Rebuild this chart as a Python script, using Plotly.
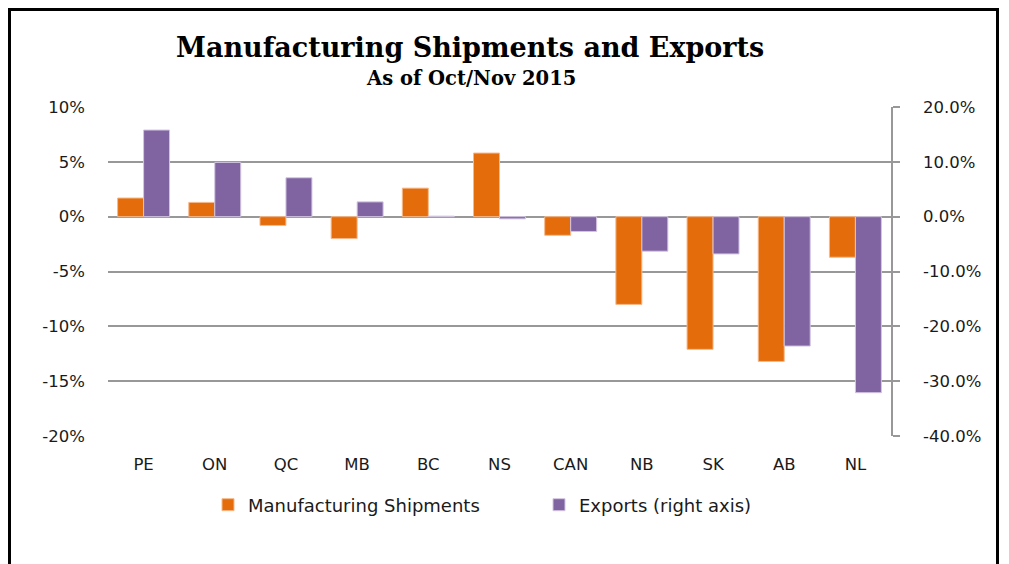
import plotly.graph_objects as go

provinces = ["PE", "ON", "QC", "MB", "BC", "NS", "CAN", "NB", "SK", "AB", "NL"]
shipments = [1.7, 1.3, -0.8, -2.0, 2.6, 5.8, -1.7, -8.0, -12.1, -13.2, -3.7]
exports = [15.8, 9.9, 7.1, 2.7, 0.1, -0.4, -2.7, -6.3, -6.8, -23.6, -32.1]

left_ticks = [-20, -15, -10, -5, 0, 5, 10]
left_labels = ["-20%", "-15%", "-10%", "-5%", "0%", "5%", "10%"]
right_ticks = [-40, -30, -20, -10, 0, 10, 20]
right_labels = ["-40.0%", "-30.0%", "-20.0%", "-10.0%", "0.0%", "10.0%", "20.0%"]

title_text = "Manufacturing Shipments and Exports"
subtitle_text = "As of Oct/Nov 2015"

# page body has an 8px margin: work in screen coords, convert to figure coords
OFF = 8
W, H = 1009 - OFF, 564 - OFF
L, R, T, B = 108 - OFF, 891 - OFF, 107 - OFF, 436 - OFF


def px_x(p):
    return (p - OFF - L) / (R - L)


def px_y(p):
    return (B - (p - OFF)) / (B - T)


ORANGE = "#E46C0A"
PURPLE = "#8064A2"
GRID = "#989898"
TXT = "#1a1a1a"
FONT = "DejaVu Sans"
FS = 16.5

fig = go.Figure()
bw = 0.365
fig.add_trace(go.Bar(
    x=provinces, y=shipments, name="Manufacturing Shipments",
    marker=dict(color=ORANGE, line=dict(color="#F6B98A", width=1)),
    width=bw, offset=-bw, yaxis="y",
))
fig.add_trace(go.Bar(
    x=provinces, y=exports, name="Exports (right axis)",
    marker=dict(color=PURPLE, line=dict(color="#D3C6E2", width=1)),
    width=bw, offset=0, yaxis="y2",
))

fig.update_layout(
    width=W, height=H,
    margin=dict(l=L, r=W - R, t=T, b=H - B, pad=0),
    paper_bgcolor="white", plot_bgcolor="white",
    barmode="overlay",
    font=dict(family=FONT, size=FS, color=TXT),
    xaxis=dict(
        type="category", showgrid=False, showline=False, zeroline=False,
        ticks="", ticklabelstandoff=16, tickfont=dict(size=FS, color=TXT),
        range=[-0.5, 10.5],
    ),
    yaxis=dict(
        range=[-20, 10], tickvals=left_ticks, ticktext=left_labels,
        showgrid=True, gridcolor=GRID, gridwidth=1.5,
        zeroline=True, zerolinecolor=GRID, zerolinewidth=1.5,
        showline=False, ticks="", ticklabelstandoff=22,
        tickfont=dict(size=FS, color=TXT),
    ),
    yaxis2=dict(
        range=[-40, 20], tickvals=right_ticks, ticktext=right_labels,
        overlaying="y", side="right", showgrid=False, zeroline=False,
        showline=True, linecolor=GRID, linewidth=1.5,
        ticks="outside", ticklen=7, tickcolor=GRID, tickwidth=1.5,
        ticklabelstandoff=20, tickfont=dict(size=FS, color=TXT),
    ),
    showlegend=True,
    legend=dict(
        orientation="h", x=px_x(208), y=px_y(505), xanchor="left", yanchor="middle",
        font=dict(size=18, color=TXT), bgcolor="rgba(0,0,0,0)",
        itemwidth=30, entrywidth=286, entrywidthmode="pixels",
    ),
)

fig.add_annotation(
    text="<b>" + title_text + "</b>", xref="paper", yref="paper",
    x=px_x(470), y=px_y(48), xanchor="center", yanchor="middle", showarrow=False,
    font=dict(family="DejaVu Serif", size=27, color="black"),
)
fig.add_annotation(
    text="<b>" + subtitle_text + "</b>", xref="paper", yref="paper",
    x=px_x(471), y=px_y(78), xanchor="center", yanchor="middle", showarrow=False,
    font=dict(family="DejaVu Serif", size=19.5, color="black"),
)

# outer frame
frame = dict(color="black", width=3)
fig.add_shape(type="line", xref="paper", yref="paper",
              x0=px_x(8), x1=px_x(999), y0=px_y(9.5), y1=px_y(9.5), line=frame)
fig.add_shape(type="line", xref="paper", yref="paper",
              x0=px_x(9.5), x1=px_x(9.5), y0=px_y(8), y1=px_y(580), line=frame)
fig.add_shape(type="line", xref="paper", yref="paper",
              x0=px_x(997.5), x1=px_x(997.5), y0=px_y(8), y1=px_y(580), line=frame)

fig.write_html("out.html")
